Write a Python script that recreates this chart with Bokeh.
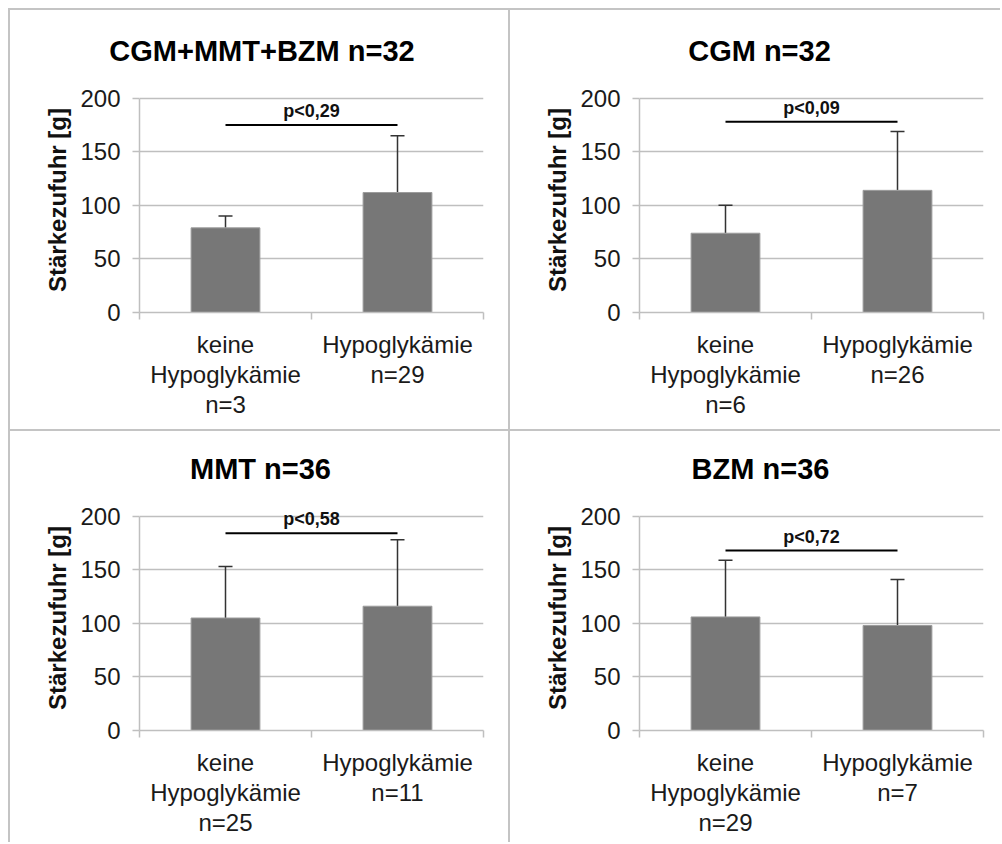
from bokeh.plotting import figure
from bokeh.layouts import column, row
from bokeh.models import (FixedTicker, Whisker, TeeHead, ColumnDataSource,
                          Label, Range1d, Title)
from bokeh.embed import file_html
from bokeh.resources import INLINE

# ---------------- data ----------------
titles = ["CGM+MMT+BZM n=32", "CGM n=32", "MMT n=36", "BZM n=36"]
groups = ["keine\nHypoglykämie", "Hypoglykämie"]
n_keine = [3, 6, 25, 29]
n_hypo = [29, 26, 11, 7]
mean_keine = [79, 74, 105, 106]
mean_hypo = [112, 114, 116, 98]
sd_keine = [11, 26, 48, 53]
sd_hypo = [53, 55, 62, 43]
p_values = ["p<0,29", "p<0,09", "p<0,58", "p<0,72"]
p_bar_y = [175, 178, 184, 168]
y_ticks = [0, 50, 100, 150, 200]
y_label = "Stärkezufuhr [g]"

FONT = "Liberation Sans"
GRID = "#bfbfbf"
BAR = "#777777"
BORDER = "#c4c4c4"
TITLE_PX = 29

# Arial/Liberation Sans Bold advance widths (em) to centre titles on panel
_BW = {"C": .722, "G": .778, "M": .833, "+": .584, "T": .611, "B": .722,
       "Z": .611, " ": .278, "n": .611, "=": .584}


def text_w(s, px):
    return sum(_BW.get(c, .556) for c in s) * px


def make_panel(i, width, height, top, bottom, left, right, title_cx,
               shadow, title_standoff):
    centers = [k + 0.5 for k in range(len(groups))]
    bounds = [k for k in range(len(groups) + 1)]
    means = [mean_keine[i], mean_hypo[i]]
    sds = [sd_keine[i], sd_hypo[i]]
    ns = [n_keine[i], n_hypo[i]]
    uppers = [m + s for m, s in zip(means, sds)]
    src = ColumnDataSource(dict(x=centers, mean=means, upper=uppers))

    p = figure(width=width, height=height, output_backend="svg",
               toolbar_location=None, x_range=Range1d(0, len(groups)),
               y_range=Range1d(y_ticks[0], y_ticks[-1] * 1.05),
               min_border_left=left, min_border_right=right,
               min_border_top=top, min_border_bottom=bottom,
               border_fill_color=None, outline_line_color=None,
               styles={"box-shadow": shadow})

    p.vbar(x="x", top="mean", width=0.4, source=src, fill_color=BAR,
           line_color="#9c9c9c", line_width=1)
    p.add_layout(Whisker(base="x", upper="upper", lower="mean", source=src,
                         dimension="height", line_color="#333333",
                         line_width=1.5,
                         upper_head=TeeHead(size=14, line_color="#333333",
                                            line_width=1.5),
                         lower_head=None))

    # significance bar
    p.segment(x0=[centers[0]], y0=[p_bar_y[i]], x1=[centers[1]],
              y1=[p_bar_y[i]], line_color="black", line_width=2)
    p.add_layout(Label(x=sum(centers) / 2, y=p_bar_y[i], text=p_values[i],
                       text_align="center", text_baseline="bottom",
                       y_offset=4, text_font=FONT, text_font_size="18px",
                       text_font_style="bold", text_color="#111111"))

    # title, centred on the whole panel (not the frame)
    offset = title_cx - text_w(titles[i], TITLE_PX) / 2 - left
    p.add_layout(Title(text=titles[i], align="left", offset=offset,
                       standoff=title_standoff, text_font=FONT,
                       text_font_size=f"{TITLE_PX}px",
                       text_font_style="bold", text_color="#000000"),
                 "above")

    # x axis
    xa = p.xaxis[0]
    xa.ticker = FixedTicker(ticks=centers, minor_ticks=bounds)
    xa.major_label_overrides = {c: f"{g}\nn={n}" for c, g, n in
                                zip(centers, groups, ns)}
    xa.major_tick_line_color = None
    xa.minor_tick_in = 0
    xa.minor_tick_out = 7
    xa.minor_tick_line_color = GRID
    xa.minor_tick_line_width = 1.5
    xa.axis_line_color = GRID
    xa.axis_line_width = 1.5
    xa.major_label_text_font = FONT
    xa.major_label_text_font_size = "24px"
    xa.major_label_text_color = "#1a1a1a"
    xa.major_label_text_line_height = 1.12
    xa.major_label_standoff = 11
    p.xgrid.visible = False

    # y axis
    ya = p.yaxis[0]
    ya.ticker = FixedTicker(ticks=y_ticks, minor_ticks=[])
    ya.bounds = (y_ticks[0], y_ticks[-1])
    ya.axis_label = y_label
    ya.axis_label_text_font = FONT
    ya.axis_label_text_font_size = "24px"
    ya.axis_label_text_font_style = "bold"
    ya.axis_label_text_color = "#111111"
    ya.axis_label_standoff = 6
    ya.major_tick_in = 0
    ya.major_tick_out = 7
    ya.major_tick_line_color = GRID
    ya.major_tick_line_width = 1.5
    ya.axis_line_color = GRID
    ya.axis_line_width = 1.5
    ya.major_label_text_font = FONT
    ya.major_label_text_font_size = "24px"
    ya.major_label_text_color = "#1a1a1a"
    ya.major_label_standoff = 12
    p.ygrid.ticker = FixedTicker(ticks=y_ticks, minor_ticks=[])
    p.ygrid.grid_line_color = GRID
    p.ygrid.grid_line_width = 1.5
    return p


sh_tl = f"inset 8px 8px 0 0 #ffffff, inset 10px 10px 0 0 {BORDER}"
sh_tr = f"inset 0 8px 0 0 #ffffff, inset 2px 10px 0 0 {BORDER}"
sh_bl = f"inset 8px 0 0 0 #ffffff, inset 10px 2px 0 0 {BORDER}"
sh_br = f"inset 2px 2px 0 0 {BORDER}"

p1 = make_panel(0, 508, 429, 87, 117, 139, 25, 261.5, sh_tl, 42)
p2 = make_panel(1, 492, 429, 87, 117, 131, 17, 251, sh_tr, 42)
p3 = make_panel(2, 508, 413, 76, 112, 139, 25, 260, sh_bl, 41)
p4 = make_panel(3, 492, 413, 76, 112, 131, 17, 252, sh_br, 41)

layout = column(row(p1, p2), row(p3, p4))
open("out.html", "w").write(file_html(layout, INLINE))
